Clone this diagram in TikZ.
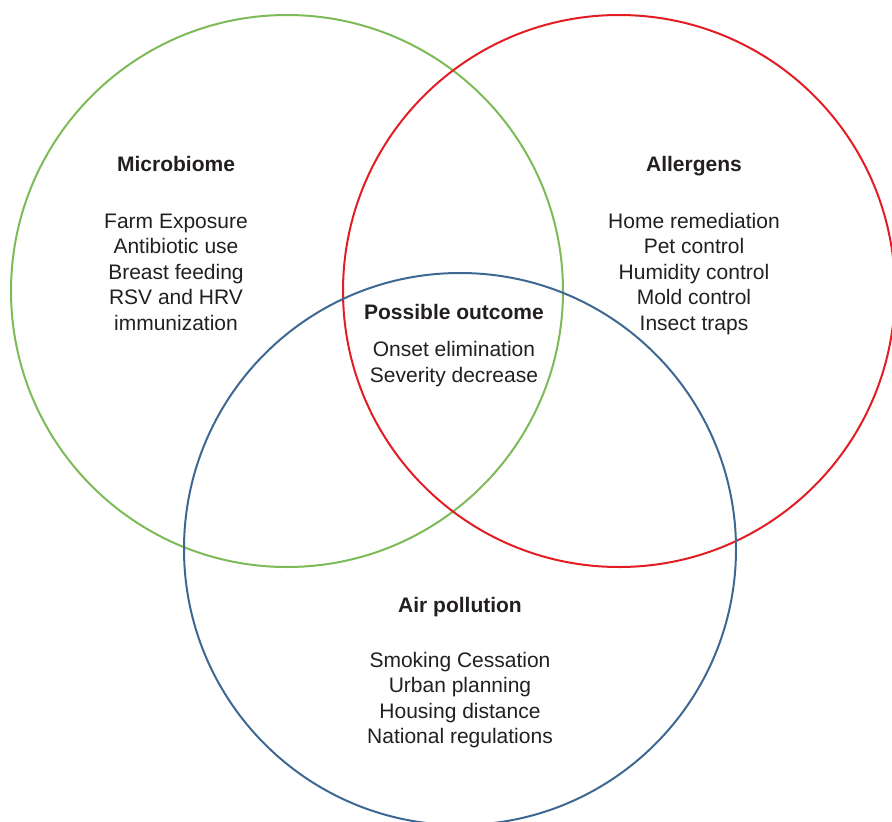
\documentclass[tikz,border=0pt]{standalone}
\usepackage{fontspec}
\setmainfont{Liberation Sans}
\definecolor{vgreen}{RGB}{125,187,88}
\definecolor{vred}{RGB}{226,30,36}
\definecolor{vblue}{RGB}{62,104,146}
\definecolor{txt}{RGB}{35,31,32}
\tikzset{
  ring/.style={circle, draw, line width=2pt, minimum size=552pt, inner sep=0pt},
  title/.style={text=txt, font=\fontsize{21}{25.5}\selectfont\bfseries, inner sep=0pt},
  items/.style={text=txt, font=\fontsize{21}{25.5}\selectfont, align=center, inner sep=0pt}
}
\begin{document}
\begin{tikzpicture}[x=1pt,y=-1pt]
\useasboundingbox (0,0) rectangle (892,822);
\node[ring, vgreen] (g) at (287,291) {};
\node[ring, vred] (r) at (619,291) {};
\node[ring, vblue] (b) at (460,549) {};

\node[title] (mt) at (176,164) {Microbiome};
\node[items] (ml) at (176,272) {Farm Exposure\\Antibiotic use\\Breast feeding\\RSV and HRV\\immunization};

\node[title] (at) at (694,166) {Allergens};
\node[items] (al) at (694,274) {Home remediation\\Pet control\\Humidity control\\Mold control\\Insect traps};

\node[title] (pt) at (454,312) {Possible outcome};
\node[items] (pl) at (454,364) {Onset elimination\\Severity decrease};

\node[title] (apt) at (460,607) {Air pollution};
\node[items] (apl) at (460,700) {Smoking Cessation\\Urban planning\\Housing distance\\National regulations};
\end{tikzpicture}
\end{document}
